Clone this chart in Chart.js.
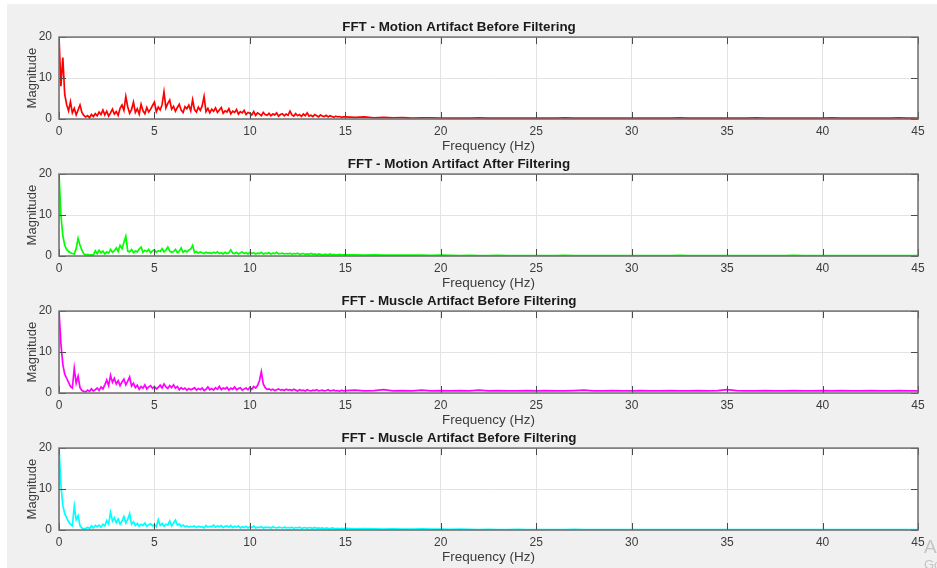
<!DOCTYPE html>
<html>
<head>
<meta charset="utf-8">
<script src="https://cdn.jsdelivr.net/npm/chart.js@4.4.1/dist/chart.umd.min.js"></script>
<style>
  html, body { margin: 0; padding: 0; background: #fff; overflow: hidden; width: 937px; height: 568px; }
  #frame { position: absolute; left: 7px; top: 4px; width: 930px; height: 564px; background: #f0f0f0; }
  canvas { position: absolute; left: 0; }
  .wm { position: absolute; left: 924px; white-space: nowrap; color: #c4c4c4; font-family: "Liberation Sans", Arial, sans-serif; }
</style>
</head>
<body>
<div id="frame"></div>
<canvas id="fft-0" width="937" height="145" style="top:13px"></canvas>
<canvas id="fft-1" width="937" height="145" style="top:150px"></canvas>
<canvas id="fft-2" width="937" height="145" style="top:287px"></canvas>
<canvas id="fft-3" width="937" height="145" style="top:424px"></canvas>
<div class="wm" style="top:536px;font-size:19px">Activate Windows</div>
<div class="wm" style="top:557px;font-size:13px">Go to Settings to activate Windows.</div>
<script>

const plot_titles = [
    "FFT - Motion Artifact Before Filtering",
    "FFT - Motion Artifact After Filtering",
    "FFT - Muscle Artifact Before Filtering",
    "FFT - Muscle Artifact Before Filtering"
];
const plot_colours = ["#ff0000", "#00ff00", "#ff00ff", "#00ffff"];

const x_ticks = [0, 5, 10, 15, 20, 25, 30, 35, 40, 45];
const y_ticks = [0, 10, 20];

// bins: 0 - 15 Hz every 0.1 Hz, then 15.5 - 45 Hz every 0.5 Hz
const low_step = 0.1;
const high_start = 15.5;
const high_step = 0.5;

const motion_before_low = [
    20, 8, 15, 6, 3.5, 2, 4.2, 1.5, 2.6, 1,
    2.2, 3.4, 1.6, 0.9, 0.5, 0.8, 0.3, 1.1, 0.6, 1.3,
    0.8, 1.7, 1.1, 2.2, 1.0, 1.9, 0.7, 1.5, 2.4, 1.2,
    1.8, 0.9, 2.6, 3.4, 2.1, 5.5, 3.0, 1.4, 2.3, 4.1,
    1.6, 2.5, 1.2, 3.6, 2.0, 1.3, 2.8, 1.7, 2.4, 3.3,
    4.1, 1.8, 2.9, 2.2, 3.5, 6.6, 2.7, 3.8, 4.6, 2.4,
    3.1, 1.9, 2.8, 3.6, 2.2, 1.6, 3.0, 2.5, 3.4, 2.0,
    4.7, 2.3, 1.7, 2.9, 2.1, 3.2, 5.5, 1.8, 2.6, 1.5,
    2.4, 1.9, 2.7, 1.6, 2.2, 2.8, 1.4, 2.0, 1.7, 2.5,
    1.3, 1.9, 1.6, 2.3, 1.2, 1.8, 1.5, 2.1, 1.1, 1.6,
    1.4, 1.0, 1.8, 0.9, 1.5, 1.2, 0.8, 1.6, 1.1, 0.9,
    1.4, 0.8, 1.2, 1.0, 1.5, 0.7, 1.1, 1.3, 0.8, 1.2,
    0.9, 1.9, 1.0, 0.7, 1.3, 0.8, 1.1, 0.6, 1.2, 0.8,
    1.5, 0.7, 0.9, 0.6, 1.1, 0.8, 0.5, 1.0, 0.7, 0.6,
    0.9, 0.5, 0.8, 0.6, 0.4, 0.7, 0.5, 0.6, 0.4, 0.5,
    0.5
];
const motion_before_high = [
    0.4, 0.5, 0.3, 0.4, 0.3, 0.35, 0.25, 0.3, 0.3, 0.25,
    0.2, 0.25, 0.2, 0.3, 0.2, 0.2, 0.25, 0.2, 0.2, 0.25,
    0.2, 0.2, 0.3, 0.2, 0.2, 0.25, 0.2, 0.2, 0.2, 0.2,
    0.25, 0.2, 0.2, 0.2, 0.3, 0.2, 0.2, 0.2, 0.25, 0.2,
    0.2, 0.2, 0.3, 0.2, 0.2, 0.2, 0.25, 0.2, 0.2, 0.2,
    0.3, 0.2, 0.2, 0.25, 0.2, 0.2, 0.2, 0.3, 0.2, 0.2
];

const motion_after_low = [
    20, 10, 5, 2.6, 1.6, 1.1, 0.8, 0.6, 0.5, 1.8,
    4.3, 2.6, 1.4, 0.5, 0.3, 0.4, 0.2, 0.3, 0.2, 1.3,
    0.6, 1.4, 0.8, 1.2, 0.5, 1.0, 0.7, 1.6, 0.9, 1.3,
    2.0, 1.1, 2.6, 1.8, 3.3, 4.8, 1.2, 1.0, 1.6, 0.8,
    1.2, 1.0, 1.7, 2.2, 0.9, 1.4, 1.1, 1.6, 0.8, 1.3,
    1.5, 0.9, 1.3, 1.1, 1.8, 1.0, 1.4, 2.2, 1.2, 0.9,
    1.1, 1.6, 0.8, 1.2, 2.0, 0.9, 1.3, 1.0, 1.5, 1.7,
    2.6, 0.8, 1.1, 0.7, 1.0, 0.8, 0.6, 0.9, 0.7, 0.8,
    0.6, 0.9, 0.7, 1.0, 0.6, 0.8, 0.5, 0.9, 0.6, 0.8,
    1.5, 0.7, 0.6, 0.9, 0.5, 0.8, 1.0, 0.6, 0.8, 0.5,
    0.9, 0.6, 0.8, 0.5, 0.7, 0.6, 0.9, 0.5, 0.7, 0.6,
    0.8, 0.5, 0.7, 0.6, 0.9, 0.5, 0.6, 0.7, 0.5, 0.6,
    0.5, 0.7, 0.4, 0.6, 0.5, 0.7, 0.4, 0.5, 0.6, 0.4,
    0.5, 0.4, 0.6, 0.4, 0.5, 0.3, 0.5, 0.4, 0.3, 0.4,
    0.4, 0.3, 0.5, 0.3, 0.4, 0.3, 0.3, 0.4, 0.3, 0.3,
    0.3
];
const motion_after_high = [
    0.3, 0.25, 0.3, 0.2, 0.25, 0.2, 0.2, 0.25, 0.15, 0.2,
    0.15, 0.1, 0.15, 0.1, 0.1, 0.15, 0.1, 0.1, 0.1, 0.1,
    0.1, 0.1, 0.15, 0.1, 0.1, 0.1, 0.1, 0.1, 0.1, 0.1,
    0.1, 0.1, 0.1, 0.1, 0.15, 0.1, 0.1, 0.1, 0.1, 0.1,
    0.1, 0.1, 0.1, 0.1, 0.1, 0.1, 0.15, 0.1, 0.1, 0.1,
    0.1, 0.1, 0.1, 0.1, 0.1, 0.1, 0.1, 0.1, 0.1, 0.1
];

const muscle_before_low = [
    20, 12, 7, 4.6, 3.6, 2.6, 1.6, 1.2, 6.0, 2.4,
    4.1, 1.3, 0.6, 0.4, 0.3, 0.7, 0.4, 1.0, 0.5, 0.8,
    1.2, 0.6, 1.5, 1.0, 2.0, 3.2, 1.8, 4.3, 2.6, 3.6,
    2.2, 3.0, 1.8, 2.7, 3.4, 2.0, 2.9, 3.9, 1.7, 2.4,
    1.3, 1.9, 0.9, 1.6, 1.2, 2.0, 1.0, 1.5, 1.8, 1.1,
    1.6, 1.0, 1.4, 1.9, 1.2, 2.2, 1.5, 1.1, 1.8, 1.3,
    2.0, 1.2, 1.6, 0.8, 1.3, 0.9, 1.2, 0.7, 1.1, 0.8,
    1.0, 1.3, 0.7, 1.1, 0.8, 1.2, 0.6, 0.9, 1.5, 0.8,
    1.1, 0.7, 1.3, 0.9, 1.6, 0.8, 1.2, 1.0, 1.4, 0.7,
    1.2, 0.9, 1.5, 0.8, 1.1, 1.3, 0.7, 1.0, 1.2, 0.8,
    1.4, 0.9, 1.6, 1.2, 1.8, 3.0, 5.2, 2.2, 1.3, 0.9,
    1.0, 0.7, 0.9, 0.6, 0.8, 1.0, 0.7, 0.8, 0.6, 0.9,
    0.7, 0.8, 0.6, 0.9, 0.7, 0.5, 0.8, 0.6, 0.7, 0.5,
    0.8, 0.6, 0.5, 0.7, 0.6, 0.8, 0.5, 0.6, 0.7, 0.5,
    0.6, 0.8, 0.5, 0.6, 0.7, 0.5, 0.6, 0.4, 0.7, 0.5,
    0.6
];
const muscle_before_high = [
    0.7, 0.5, 0.6, 0.8, 0.5, 0.6, 0.5, 0.7, 0.5, 0.6,
    0.5, 0.6, 0.5, 0.7, 0.5, 0.6, 0.5, 0.5, 0.6, 0.5,
    0.6, 0.5, 0.5, 0.6, 0.7, 0.5, 0.5, 0.6, 0.5, 0.5,
    0.6, 0.5, 0.5, 0.6, 0.5, 0.5, 0.6, 0.5, 0.6, 0.8,
    0.6, 0.5, 0.5, 0.6, 0.5, 0.5, 0.6, 0.5, 0.5, 0.6,
    0.5, 0.6, 0.5, 0.5, 0.6, 0.5, 0.5, 0.6, 0.5, 0.5
];

const muscle_second_low = [
    20, 11, 6, 4, 3, 2, 1.4, 1.0, 5.8, 2.5,
    3.5, 1.0, 0.5, 0.3, 0.4, 0.6, 0.4, 1.0, 0.5, 1.1,
    0.8, 1.2, 0.7, 1.4, 1.0, 2.3, 1.5, 4.3, 2.2, 3.0,
    1.8, 2.7, 1.5, 2.2, 3.3, 1.7, 2.6, 4.0, 1.4, 2.0,
    1.1, 1.6, 0.9, 1.4, 1.1, 1.7, 0.9, 1.3, 1.5, 1.0,
    1.3, 0.8, 2.5, 1.1, 1.6, 0.9, 1.4, 1.2, 2.2, 1.0,
    1.7, 2.4, 1.2, 1.5, 0.9, 1.2, 0.8, 1.0, 0.7, 0.9,
    0.8, 1.0, 0.6, 0.9, 0.7, 0.8, 0.5, 1.1, 0.7, 0.9,
    0.8, 1.2, 0.7, 1.0, 0.8, 1.1, 0.6, 0.9, 1.0, 0.7,
    1.1, 0.6, 0.9, 0.7, 1.0, 0.5, 0.8, 0.6, 0.9, 0.5,
    0.8, 0.6, 1.0, 0.5, 0.7, 0.6, 0.8, 0.5, 0.7, 0.6,
    0.7, 0.5, 0.8, 0.6, 0.5, 0.7, 0.6, 0.5, 0.7, 0.5,
    0.6, 0.5, 0.7, 0.4, 0.6, 0.5, 0.7, 0.4, 0.5, 0.6,
    0.4, 0.6, 0.5, 0.4, 0.6, 0.4, 0.5, 0.4, 0.5, 0.3,
    0.5, 0.4, 0.3, 0.5, 0.4, 0.3, 0.4, 0.3, 0.4, 0.3,
    0.4
];
const muscle_second_high = [
    0.3, 0.35, 0.3, 0.25, 0.3, 0.2, 0.25, 0.3, 0.2, 0.2,
    0.15, 0.2, 0.15, 0.1, 0.15, 0.1, 0.1, 0.15, 0.1, 0.1,
    0.1, 0.1, 0.1, 0.15, 0.1, 0.1, 0.1, 0.1, 0.1, 0.1,
    0.1, 0.1, 0.1, 0.1, 0.1, 0.1, 0.1, 0.1, 0.1, 0.1,
    0.1, 0.1, 0.1, 0.1, 0.1, 0.1, 0.1, 0.1, 0.1, 0.1,
    0.1, 0.1, 0.1, 0.1, 0.1, 0.1, 0.1, 0.1, 0.1, 0.1
];

const font_family = '"Liberation Sans", Arial, Helvetica, sans-serif';
const text_colour = '#3c3c3c';

// white plot area + matlab style box with inward ticks
const axesBox = {
    id: 'axesBox',
    beforeDraw(chart) {
        const {ctx, chartArea: a} = chart;
        ctx.save();
        ctx.fillStyle = '#ffffff';
        ctx.fillRect(a.left, a.top, a.right - a.left, a.bottom - a.top);
        ctx.restore();
    },
    afterDraw(chart) {
        const {ctx, chartArea: a} = chart;
        const x = chart.scales.x;
        const y = chart.scales.y;
        ctx.save();
        ctx.strokeStyle = '#4a4a4a';
        ctx.lineWidth = 1;
        ctx.beginPath();
        x.ticks.forEach(t => {
            const px = Math.round(x.getPixelForValue(t.value)) + 0.5;
            ctx.moveTo(px, a.bottom); ctx.lineTo(px, a.bottom - 7);
            ctx.moveTo(px, a.top); ctx.lineTo(px, a.top + 7);
        });
        y.ticks.forEach(t => {
            const py = Math.round(y.getPixelForValue(t.value)) + 0.5;
            ctx.moveTo(a.left, py); ctx.lineTo(a.left + 7, py);
            ctx.moveTo(a.right, py); ctx.lineTo(a.right - 7, py);
        });
        ctx.stroke();
        ctx.strokeStyle = '#6e6e6e';
        ctx.lineWidth = 1.5;
        ctx.strokeRect(a.left, a.top, a.right - a.left, a.bottom - a.top);
        ctx.restore();
    }
};

function createFftChart({canvas_id, title, colour, low_values, high_values}) {

    let points = [];
    for (let i = 0; i < low_values.length; i++) {
        points.push({x: i * low_step, y: low_values[i]});
    }
    for (let i = 0; i < high_values.length; i++) {
        points.push({x: high_start + i * high_step, y: high_values[i]});
    }

    const config = {
        type: 'line',
        data: {
            datasets: [{
                data: points,
                borderColor: colour,
                backgroundColor: colour,
                borderWidth: 1.7,
                pointRadius: 0,
                fill: false,
                tension: 0
            }]
        },
        options: {
            responsive: false,
            animation: false,
            layout: {
                padding: {left: 0, right: 19, top: 0, bottom: 0}
            },
            plugins: {
                legend: {display: false},
                tooltip: {enabled: false},
                title: {
                    display: true,
                    text: title,
                    color: '#1a1a1a',
                    font: {family: font_family, size: 13.4, weight: 'bold'},
                    padding: {top: 6, bottom: 2.0}
                }
            },
            scales: {
                x: {
                    type: 'linear',
                    min: 0,
                    max: 45,
                    afterBuildTicks: scale => { scale.ticks = x_ticks.map(v => ({value: v})); },
                    afterFit: scale => { scale.height = 39; },
                    grid: {color: '#e3e3e3', drawTicks: false},
                    border: {display: false},
                    ticks: {color: text_colour, font: {family: font_family, size: 12}, padding: 5, maxRotation: 0},
                    title: {
                        display: true,
                        text: 'Frequency (Hz)',
                        color: text_colour,
                        font: {family: font_family, size: 13.5},
                        padding: {top: 0, bottom: 4}
                    }
                },
                y: {
                    min: 0,
                    max: 20,
                    afterBuildTicks: scale => { scale.ticks = y_ticks.map(v => ({value: v})); },
                    afterFit: scale => { scale.width = 59; },
                    grid: {color: '#e3e3e3', drawTicks: false},
                    border: {display: false},
                    ticks: {color: text_colour, font: {family: font_family, size: 12}, padding: 7},
                    title: {
                        display: true,
                        text: 'Magnitude',
                        color: text_colour,
                        font: {family: font_family, size: 13},
                        padding: {top: 25, bottom: 0}
                    }
                }
            }
        },
        plugins: [axesBox]
    };

    const ctx = document.getElementById(canvas_id).getContext('2d');
    return new Chart(ctx, config);
}

createFftChart({canvas_id: 'fft-0', title: plot_titles[0], colour: plot_colours[0],
    low_values: motion_before_low, high_values: motion_before_high});
createFftChart({canvas_id: 'fft-1', title: plot_titles[1], colour: plot_colours[1],
    low_values: motion_after_low, high_values: motion_after_high});
createFftChart({canvas_id: 'fft-2', title: plot_titles[2], colour: plot_colours[2],
    low_values: muscle_before_low, high_values: muscle_before_high});
createFftChart({canvas_id: 'fft-3', title: plot_titles[3], colour: plot_colours[3],
    low_values: muscle_second_low, high_values: muscle_second_high});

</script>
</body>
</html>
